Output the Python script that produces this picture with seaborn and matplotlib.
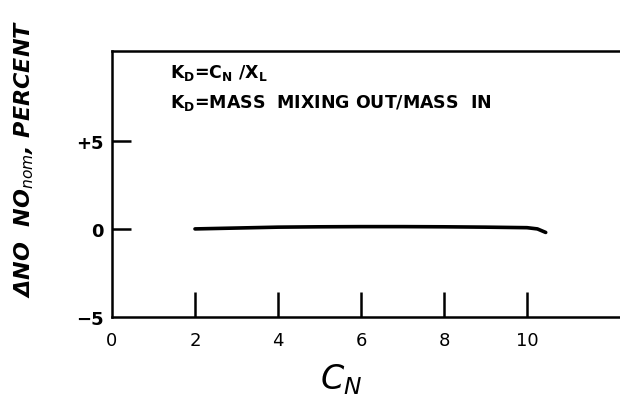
import matplotlib
matplotlib.use("Agg")
import matplotlib.pyplot as plt
import seaborn as sns
import pandas as pd

# Curve of the NO deviation against the mixing parameter C_N
cn_values = [2.0, 3.0, 4.0, 5.0, 6.0, 7.0, 8.0, 9.0, 10.0, 10.25, 10.45]
dno_percent = [0.0, 0.05, 0.1, 0.12, 0.13, 0.13, 0.12, 0.1, 0.07, 0.0, -0.2]

x_ticks = [0, 2, 4, 6, 8, 10]
x_tick_labels = ["0", "2", "4", "6", "8", "10"]
y_ticks = [-5, 0, 5]
y_tick_labels = ["\u22125", "0", "+5"]

sns.set_style("white")
plt.rcParams["font.family"] = ["DejaVu Sans"]
plt.rcParams["text.color"] = "black"
plt.rcParams["axes.labelcolor"] = "black"
plt.rcParams["xtick.color"] = "black"
plt.rcParams["ytick.color"] = "black"

df = pd.DataFrame({"C_N": cn_values, "dNO": dno_percent})

fig = plt.figure(figsize=(6.2, 4.14), dpi=100)
ax = fig.add_axes([0.1806, 0.2319, 0.8194, 0.6425])

sns.lineplot(data=df, x="C_N", y="dNO", ax=ax, color="black", linewidth=2.6)

ax.set_xlim(0, 12.24)
ax.set_ylim(-5, 10.1)

for side in ["left", "bottom", "top"]:
    ax.spines[side].set_color("black")
    ax.spines[side].set_linewidth(1.8)
ax.spines["right"].set_visible(False)

ax.set_xticks(x_ticks)
ax.set_xticklabels(x_tick_labels, fontsize=13)
ax.set_yticks(y_ticks)
ax.set_yticklabels(y_tick_labels, fontsize=13, fontweight="bold")
ax.tick_params(axis="x", bottom=True, direction="in", length=18, width=1.8,
               pad=10, color="black")
ax.tick_params(axis="y", left=True, direction="in", length=14, width=1.8,
               pad=6, color="black")
# suppress tick marks at the corner
ax.xaxis.get_major_ticks()[0].tick1line.set_visible(False)
ax.yaxis.get_major_ticks()[0].tick1line.set_visible(False)

ax.set_xlabel("$C_N$", fontsize=24)
ax.xaxis.set_label_coords(0.45, -0.165)
ax.set_ylabel("\u0394NO  NO$_{nom}$, PERCENT", fontsize=16, style="italic",
              fontweight="bold")
ax.yaxis.set_label_coords(-0.15, 0.6)

ax.text(1.4, 8.9, "K$_\\mathregular{D}$=C$_\\mathregular{N}$ /X$_\\mathregular{L}$",
        fontsize=12.5, fontweight="bold", ha="left", va="center")
ax.text(1.4, 7.2, "K$_\\mathregular{D}$=MASS  MIXING OUT/MASS  IN",
        fontsize=12.5, fontweight="bold", ha="left", va="center")

fig.savefig("out.png", dpi=100)
